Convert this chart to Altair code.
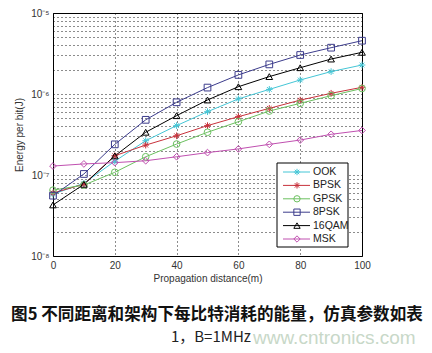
import altair as alt
import pandas as pd

distance = [0, 10, 20, 30, 40, 50, 60, 70, 80, 90, 100]
series_names = ["OOK", "BPSK", "GPSK", "8PSK", "16QAM", "MSK"]
ook = [5.8e-8, 7.9e-8, 1.48e-7, 2.65e-7, 4.07e-7, 6.05e-7, 8.7e-7, 1.14e-6, 1.49e-6, 1.89e-6, 2.28e-6]
bpsk = [6.0e-8, 7.7e-8, 1.73e-7, 2.34e-7, 3.05e-7, 4.07e-7, 5.25e-7, 6.65e-7, 8.4e-7, 1.02e-6, 1.21e-6]
gpsk = [6.5e-8, 7.5e-8, 1.08e-7, 1.68e-7, 2.41e-7, 3.37e-7, 4.55e-7, 6.16e-7, 7.67e-7, 9.53e-7, 1.17e-6]
psk8 = [5.56e-8, 1.03e-7, 2.39e-7, 4.8e-7, 7.9e-7, 1.2e-6, 1.72e-6, 2.32e-6, 3.03e-6, 3.73e-6, 4.55e-6]
qam16 = [4.27e-8, 7.67e-8, 1.72e-7, 3.37e-7, 5.4e-7, 8.43e-7, 1.23e-6, 1.64e-6, 2.11e-6, 2.7e-6, 3.27e-6]
msk = [1.29e-7, 1.37e-7, 1.42e-7, 1.5e-7, 1.68e-7, 1.89e-7, 2.1e-7, 2.39e-7, 2.7e-7, 3.18e-7, 3.55e-7]

colors = ["#45c6d6", "#c8323c", "#6cc060", "#3c3c8c", "#000000", "#c050b0"]
star = "M-1,0L1,0M0,-1L0,1M-0.7,-0.7L0.7,0.7M-0.7,0.7L0.7,-0.7"
shapes = [star, star, "circle", "square", "triangle-up", "diamond"]

x_ticks = [0, 10, 20, 30, 40, 50, 60, 70, 80, 90, 100]
y_ticks = [m * 10.0 ** e for e in (-8, -7, -6) for m in range(1, 10)] + [1e-5]
y_labels = {1e-8: "10⁻⁸", 1e-7: "10⁻⁷", 1e-6: "10⁻⁶", 1e-5: "10⁻⁵"}

caption1 = "图5 不同距离和架构下每比特消耗的能量，仿真参数如表"
caption2 = "1，B=1MHz"
watermark = "www.cntronics.com"

rows = []
for name, vals in zip(series_names, [ook, bpsk, gpsk, psk8, qam16, msk]):
    for d, v in zip(distance, vals):
        rows.append({"series": name, "distance": d, "energy": v})
df = pd.DataFrame(rows)

label_expr = " : ".join(
    f"datum.value == {k!r} ? '{v}'" for k, v in y_labels.items()
) + " : ''"

color = alt.Color("series:N", scale=alt.Scale(domain=series_names, range=colors), legend=None)
shape = alt.Shape("series:N", scale=alt.Scale(domain=series_names, range=shapes), legend=None)

x_enc = alt.X(
    "distance:Q",
    scale=alt.Scale(domain=[0, 100], nice=False),
    axis=alt.Axis(values=x_ticks, title="Propagation distance(m)", grid=True,
                  gridDash=[1, 3], gridColor="#000", gridOpacity=0.9,
                  ticks=False, labelPadding=4, titlePadding=3, domain=False,
                  labelOverlap=False, labelFlush=False),
)
y_enc = alt.Y(
    "energy:Q",
    scale=alt.Scale(type="log", domain=[1e-8, 1e-5], nice=False),
    axis=alt.Axis(values=y_ticks, labelExpr=label_expr, title="Energy per bit(J)",
                  grid=True, gridDash=[1, 3], gridColor="#000", gridOpacity=0.9,
                  ticks=False, labelPadding=4, titlePadding=6, domain=False,
                  labelOverlap=False, labelFlush=False),
)

base = alt.Chart(df)
lines = base.mark_line(strokeWidth=1).encode(x=x_enc, y=y_enc, color=color, detail="series:N")
points = base.mark_point(filled=False, size=45, strokeWidth=1, opacity=1).encode(
    x="distance:Q", y="energy:Q", color=color, shape=shape
)

# Legend built as layers
leg = pd.DataFrame({"series": series_names, "i": list(range(len(series_names)))})
legbase = alt.Chart(leg).transform_calculate(
    ly="159 + 13.4 * datum.i", lx1="230", lx2="257", lm="244", lt="260"
)
box = alt.Chart(pd.DataFrame({"a": [0]})).mark_rect(
    fill="white", stroke="black", strokeWidth=1
).encode(x=alt.value(224), x2=alt.value(295), y=alt.value(150), y2=alt.value(234))
leg_lines = legbase.mark_rule(strokeWidth=1).encode(
    x=alt.X("lx1:Q", scale=None), x2="lx2:Q", y=alt.Y("ly:Q", scale=None), color=color
)
leg_pts = legbase.mark_point(filled=False, size=40, strokeWidth=1, opacity=1).encode(
    x=alt.X("lm:Q", scale=None), y=alt.Y("ly:Q", scale=None), color=color, shape=shape
)
leg_text = legbase.mark_text(align="left", baseline="middle", fontSize=10.5,
                             font="Liberation Sans", color="#222").encode(
    x=alt.X("lt:Q", scale=None), y=alt.Y("ly:Q", scale=None), text="series:N"
)

cap_df = pd.DataFrame({"a": [0]})
cap1 = alt.Chart(cap_df).mark_text(
    text=caption1, font="Noto Sans CJK SC", fontSize=16.6, fontWeight="bold",
    color="#111", align="center", baseline="middle"
).encode(x=alt.value(164), y=alt.value(302))
cap2 = alt.Chart(cap_df).mark_text(
    text=caption2, font="Noto Sans CJK SC", fontSize=15, fontWeight="normal",
    color="#222", align="right", baseline="middle"
).encode(x=alt.value(198), y=alt.value(324))
wm = alt.Chart(cap_df).mark_text(
    text=watermark, font="Liberation Sans", fontSize=19,
    color="#c8d8c8", align="left", baseline="middle"
).encode(x=alt.value(200), y=alt.value(325))

chart = alt.layer(lines, points, box, leg_lines, leg_pts, leg_text, cap1, wm, cap2).properties(
    width=309, height=243,
    autosize=alt.AutoSizeParams(type="none"),
    padding={"left": 53, "top": 13, "right": 70, "bottom": 97},
    background="white",
).configure_view(stroke="black", strokeWidth=1).configure_axis(
    labelFont="Liberation Sans", labelFontSize=10, labelColor="#333",
    titleFont="Liberation Sans", titleFontSize=10, titleColor="#333", titleFontWeight="normal",
)

chart.save("out.html", embed_options={"renderer": "svg", "actions": False})
